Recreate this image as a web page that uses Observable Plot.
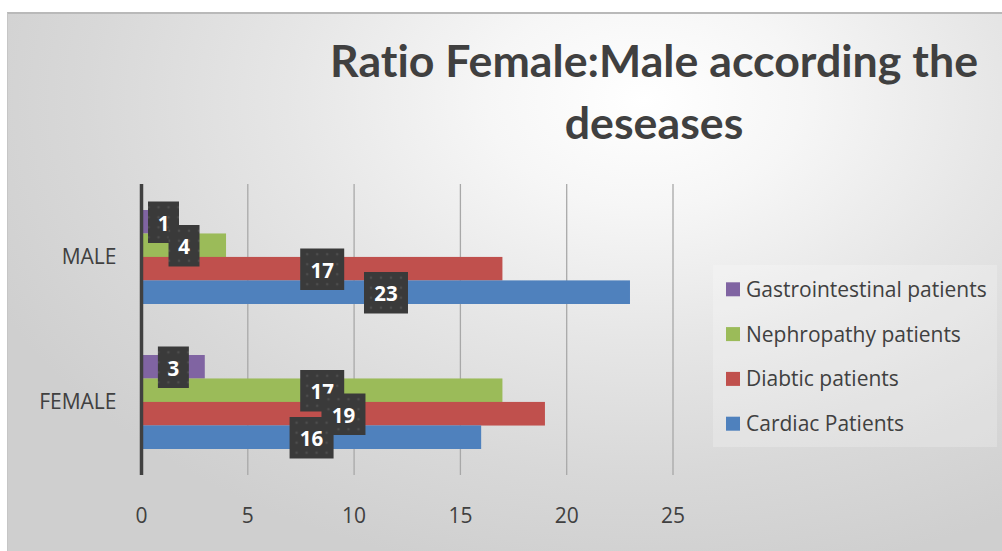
<!DOCTYPE html>
<html>
<head>
<meta charset="utf-8">
<script src="https://cdn.jsdelivr.net/npm/d3@7"></script>
<script src="https://cdn.jsdelivr.net/npm/@observablehq/plot@0.6"></script>
<style>
  html, body { margin: 0; padding: 0; background: #fff; }
  #wrap { position: relative; width: 1002px; height: 551px; overflow: hidden; font-family: "Open Sans", sans-serif; color: #404040; }
  #bg { position: absolute; left: 7px; top: 12px; right: 0; bottom: 0;
        border-top: 2px solid #b9b9b9; border-left: 1px solid #c6c6c6;
        background: radial-gradient(ellipse 72% 90% at 64% 16%, #ffffff 0%, #f6f6f6 22%, #e6e6e6 50%, #d8d8d8 78%, #cfcfcf 100%); }
  #legendbox { position: absolute; left: 713px; top: 265px; width: 284px; height: 182px; background: rgba(255,255,255,0.22); }
  #overlay, #chart svg { position: absolute; left: 0; top: 0; }
  #overlay text { font-variant-ligatures: none; font-feature-settings: "liga" 0; }
  g[aria-label="label-box"] { filter: drop-shadow(3px 3px 3px rgba(0,0,0,0.45)); }
  g[aria-label="bars"] { filter: drop-shadow(2px 3px 5px rgba(0,0,0,0.22)); }
</style>
</head>
<body>
<div id="wrap">
  <div id="bg"></div>
  <div id="legendbox"></div>
  <svg id="overlay" width="1002" height="551">
    <defs>
      <pattern id="dots" width="10" height="10" patternUnits="userSpaceOnUse">
        <rect width="10" height="10" fill="#3a3a3a"></rect>
        <circle cx="5" cy="5" r="1.3" fill="#4d4d4d"></circle>
      </pattern>
    </defs>
  </svg>
  <div id="chart"></div>
</div>
<script>
// ---- data ----
const categories = ["MALE", "FEMALE"];
const series = ["Gastrointestinal patients", "Nephropathy patients", "Diabtic patients", "Cardiac Patients"];
const maleValues = [1, 4, 17, 23];
const femaleValues = [3, 17, 19, 16];
const xTicks = [0, 5, 10, 15, 20, 25];
const titleLines = ["Ratio Female:Male according the", "deseases"];
const palette = ["#8064a2", "#9bbb59", "#c0504d", "#4f81bd"];

// ---- layout ----
const W = 1002, H = 551;
const mt = 184, mb = H - 475, ml = 141, mr = W - 672.5;
const pInner = 0.355, pOuter = pInner / 2;
const step = (H - mt - mb) / (categories.length - pInner + 2 * pOuter);
const bw = step * (1 - pInner);
const bh = bw / series.length;
const pxPerUnit = (W - ml - mr) / (xTicks[xTicks.length - 1] - xTicks[0]);

const valuesBy = {MALE: maleValues, FEMALE: femaleValues};
const rows = [];
categories.forEach(c => series.forEach((s, i) => rows.push({category: c, series: s, value: valuesBy[c][i]})));

const boxW = d => 18 + 13 * String(d.value).length;
// label centred in the bar, kept inside the plot area
const labelX = d => Math.max(d.value / 2, (boxW(d) / 2 + 6.5) / pxPerUnit);
const boxSymbol = {
  draw(context, size) {
    const w = Math.sqrt(size / Math.PI);
    context.rect(-w / 2, -20.75, w, 41.5);
  }
};

const barMarks = series.map((s, i) => Plot.barX(rows.filter(d => d.series === s), {
  x: "value", y: "category", fill: "series",
  insetTop: i * bh, insetBottom: (series.length - 1 - i) * bh,
  ariaLabel: "bars"
}));

const labelMarks = series.flatMap((s, i) => {
  const data = rows.filter(d => d.series === s);
  const dy = (i - (series.length - 1) / 2) * bh;
  return [
    Plot.dot(data, {x: labelX, y: "category", dy, r: boxW, symbol: boxSymbol, fill: "url(#dots)", ariaLabel: "label-box"}),
    Plot.text(data, {x: labelX, y: "category", dy: dy + 2, text: d => String(d.value), fill: "white", fontWeight: 700, fontSize: 20.5})
  ];
});

const chart = Plot.plot({
  width: W, height: H,
  marginTop: mt, marginBottom: mb, marginLeft: ml, marginRight: mr,
  x: {domain: [xTicks[0], xTicks[xTicks.length - 1]]},
  y: {domain: categories, paddingInner: pInner, paddingOuter: pOuter},
  color: {domain: series, range: palette},
  r: {type: "identity"},
  style: {background: "transparent", fontFamily: "Open Sans", color: "#404040", fontSize: "21px", overflow: "visible"},
  marks: [
    Plot.ruleX(xTicks.slice(1), {stroke: "#a8a8a8", strokeWidth: 1.3}),
    ...barMarks,
    Plot.ruleX([0], {stroke: "#404040", strokeWidth: 3.5}),
    Plot.axisX(xTicks, {tickSize: 0, tickPadding: 33, fontSize: 21, label: null}),
    Plot.axisY({tickSize: 0, tickPadding: 25, fontSize: 21, label: null}),
    ...labelMarks
  ]
});
document.getElementById("chart").appendChild(chart);

// ---- title & legend ----
const ov = d3.select("#overlay");
const titleY = [76.5, 139];
const titleNodes = titleLines.map((t, i) =>
  ov.append("text").attr("x", 654).attr("y", titleY[i])
    .attr("text-anchor", "middle")
    .attr("font-family", "Lato").attr("font-weight", 700).attr("font-size", 43)
    .attr("fill", "#404040").text(t).node());
const k = 648 / titleNodes[0].getComputedTextLength();
titleNodes.forEach(n => {
  const w = n.getComputedTextLength() * k;
  n.setAttribute("textLength", w);
  n.setAttribute("lengthAdjust", "spacingAndGlyphs");
});
const lg = ov.append("g");
series.forEach((s, i) => {
  const cy = 289.3 + i * 44.8;
  lg.append("rect").attr("x", 726).attr("y", cy - 7).attr("width", 14).attr("height", 14).attr("fill", palette[i]);
  lg.append("text").attr("x", 746).attr("y", cy).attr("dy", "0.36em")
    .attr("font-family", "Open Sans").attr("font-size", 21).attr("fill", "#404040").text(s);
});
</script>
</body>
</html>
